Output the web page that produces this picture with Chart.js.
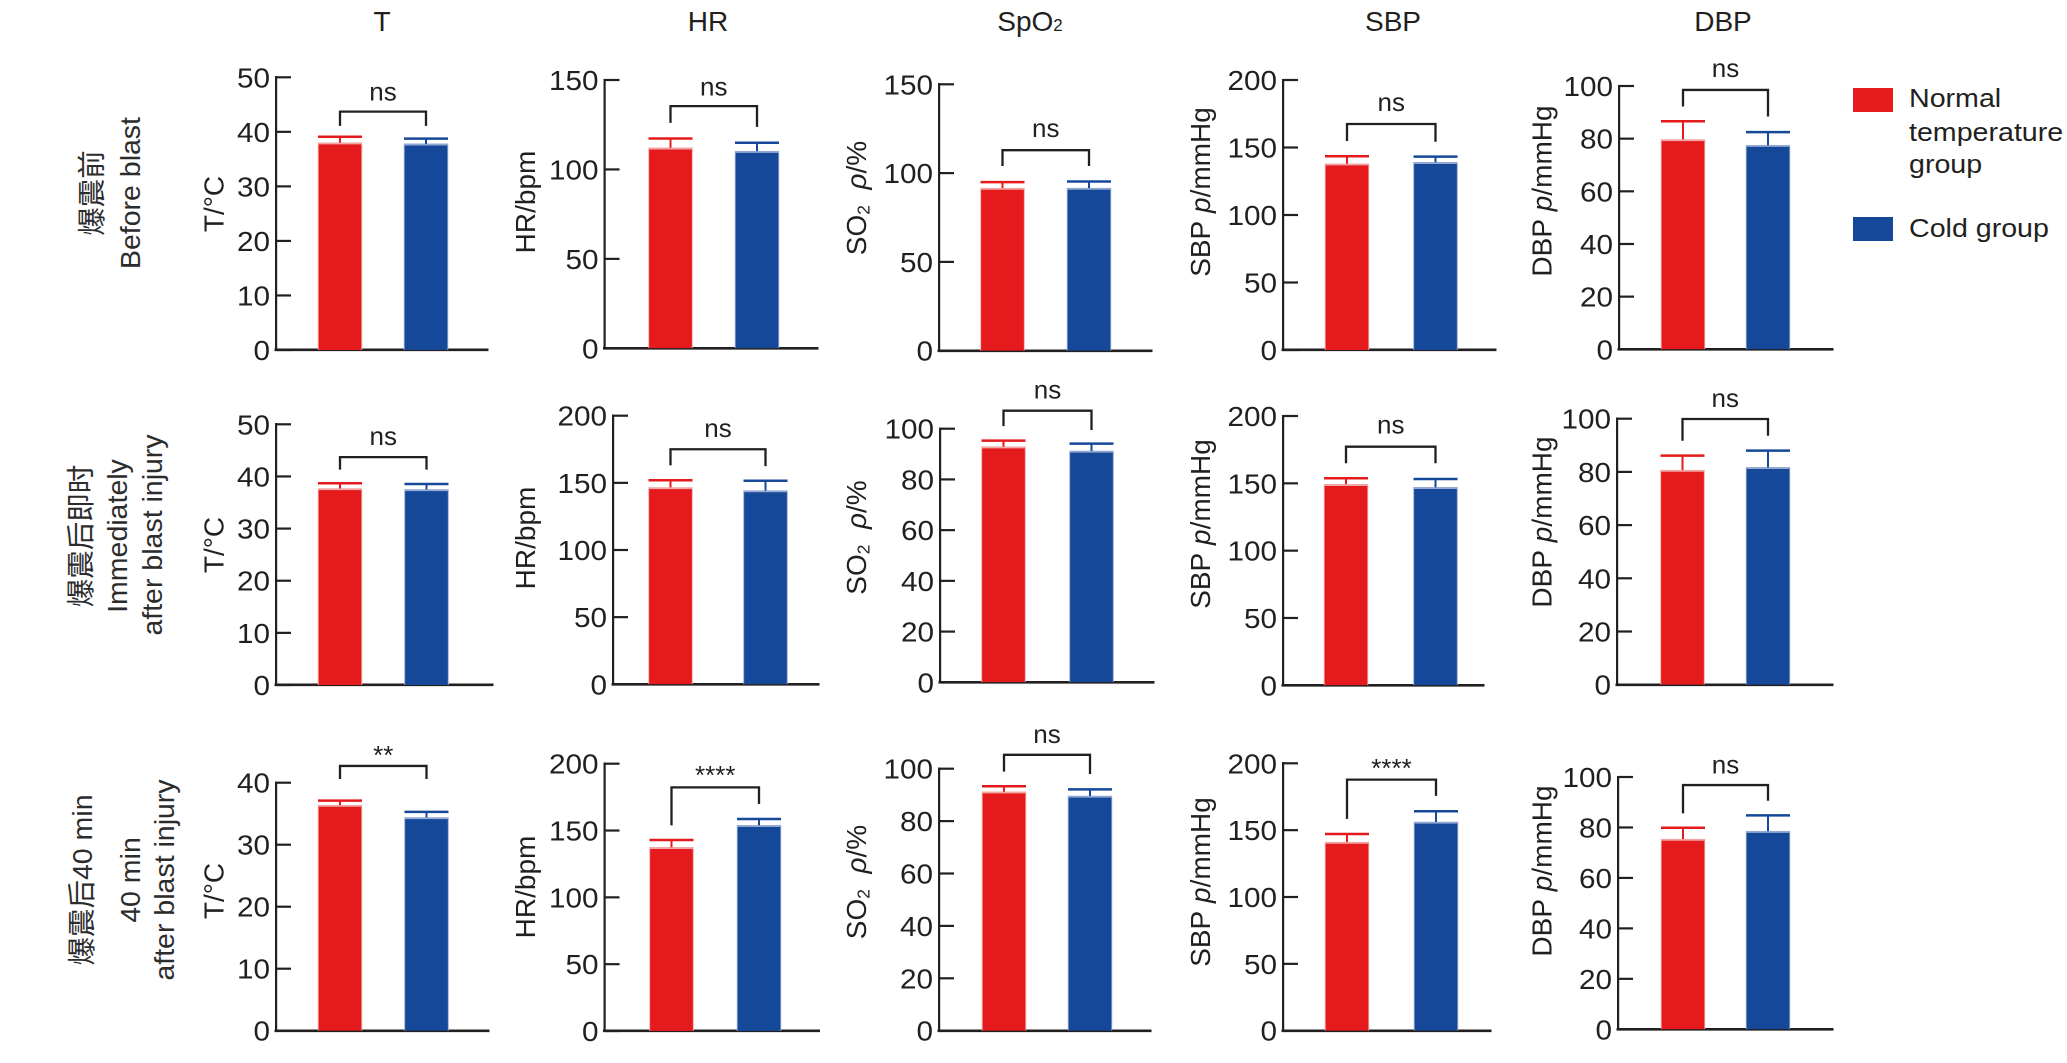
<!DOCTYPE html>
<html>
<head>
<meta charset="utf-8">
<script src="https://cdn.jsdelivr.net/npm/chart.js@4.4.1/dist/chart.umd.min.js"></script>
<style>
html, body { margin: 0; padding: 0; background: #fff; }
#page { position: relative; width: 2067px; height: 1063px; overflow: hidden; background: #fff;
        font-family: "Liberation Sans", Arial, sans-serif; color: #231f20; }
#page canvas { position: absolute; }
.colTitle { position: absolute; font-size: 28px; line-height: 1; white-space: nowrap;
            transform: translateX(-50%); }
.colTitle small { font-size: 60%; }
.rowLab { position: absolute; font-size: 28.5px; line-height: 1; white-space: nowrap; color: #2c2c2c;
          font-family: "Liberation Sans", "Noto Sans CJK SC", sans-serif;
          transform: translate(-50%, -50%) rotate(-90deg); }
.legBox { position: absolute; width: 40px; height: 24px; }
.legText { position: absolute; font-size: 26px; line-height: 1; white-space: nowrap;
           transform-origin: left center; transform: scaleX(1.1); }
</style>
</head>
<body>
<div id="page"></div>
<script>
// ---- data ----
const groups = ['Normal temperature group', 'Cold group'];
const measures = ['T', 'HR', 'SpO2', 'SBP', 'DBP'];
const timepoints = ['爆震前 Before blast', '爆震后即时 Immediately after blast injury', '爆震后40 min 40 min after blast injury'];

// [normal, cold] per time point
const tMean    = [[38.0, 37.8], [37.7, 37.5], [36.4, 34.4]];
const tSD      = [[1.1, 0.95], [1.0, 1.05], [0.7, 0.9]];
const hrMean   = [[112.1, 110.2], [146.6, 144.2], [137.4, 153.9]];
const hrSD     = [[5.2, 4.7], [5.3, 7.4], [5.5, 4.7]];
const spo2Mean = [[91.6, 91.6], [92.9, 91.2], [91.2, 89.6]];
const spo2SD   = [[3.3, 3.7], [2.4, 2.9], [2.1, 2.5]];
const sbpMean  = [[138.0, 139.0], [149.3, 147.0], [141.1, 156.1]];
const sbpSD    = [[5.5, 4.2], [4.5, 6.2], [6.0, 8.0]];
const dbpMean  = [[79.7, 77.5], [80.7, 81.7], [75.4, 78.5]];
const dbpSD    = [[6.9, 5.0], [5.4, 6.3], [4.5, 6.3]];

const significance = [
  ['ns', 'ns', 'ns', 'ns', 'ns'],
  ['ns', 'ns', 'ns', 'ns', 'ns'],
  ['**', '****', 'ns', '****', 'ns']
];
const yMax  = [[50, 150, 150, 200, 100], [50, 200, 100, 200, 100], [40, 200, 100, 200, 100]];
const yStep = [[10, 50, 50, 50, 20], [10, 50, 20, 50, 20], [10, 50, 20, 50, 20]];

// ---- layout (pixels / data units for annotations) ----
const RED = '#e41a1c', BLUE = '#16489a';
const RED_EDGE = '#f2a7a7', BLUE_EDGE = '#93a9d4';
const INK = '#231f20';
const FONT = '"Liberation Sans", Arial, sans-serif';
const TICK_SIZE = 28, SX_TICK = 1.06;

// axisX, endX, red centre, blue centre, y of top tick, y of zero
const geom = [
  [[276, 488, 340, 426, 77.3, 350], [604.5, 818, 670.5, 757, 80, 348.3], [939, 1152, 1002.5, 1089, 84.3, 350.7],
   [1283, 1496, 1347, 1435.5, 80, 350], [1619, 1833, 1683, 1768, 86, 349.3]],
  [[276, 493, 340, 426.5, 424.3, 685], [613, 819, 670.5, 765.5, 415.7, 684.3], [940, 1154, 1003.5, 1091.5, 428.7, 682.3],
   [1283, 1484, 1346, 1435.5, 416, 685.3], [1617, 1833, 1682.5, 1768, 418.7, 684.7]],
  [[276, 489, 340, 426.5, 782.7, 1030.7], [604.5, 819.5, 671.5, 759, 763.7, 1031], [939, 1151, 1004, 1090, 768.7, 1030.7],
   [1283, 1491, 1347, 1436, 763.3, 1030.7], [1618, 1833, 1683, 1768, 777, 1029.3]]
];
// bracket top, left leg end, right leg end, label centre (data units)
const brackets = [
  [[43.7, 41.1, 41.1, 47], [135.4, 126, 123.8, 145], [112.9, 104, 104, 124], [167.4, 154.8, 154.3, 182], [98.5, 92.2, 88.4, 106]],
  [[43.7, 41.3, 41.3, 47.3], [175, 163, 162.5, 189], [107.1, 101, 99.5, 114.6], [177.2, 164.9, 164.9, 192], [99.9, 91.7, 93.6, 107]],
  [[42.7, 40.6, 40.6, 45.4], [182.3, 153.9, 169.8, 195.8], [105.3, 98.9, 98, 112.4], [187.8, 158.4, 175.6, 200.9], [96.8, 85.6, 90.6, 104]]
];
const titleX = [213.5, 525, 856, 1200, 1541.5];
const titleY = [[204, 202, 198, 192, 191], [545, 538, 537.5, 524, 522], [891, 887, 882, 882, 871]];
const yTitles = [
  [{ t: 'T/°C' }],
  [{ t: 'HR/bpm' }],
  [{ t: 'SO' }, { t: '2', sub: true }, { t: '  ' }, { t: 'ρ', it: true }, { t: '/%' }],
  [{ t: 'SBP ' }, { t: 'p', it: true }, { t: '/mmHg' }],
  [{ t: 'DBP ' }, { t: 'p', it: true }, { t: '/mmHg' }]
];

const meanTable = [tMean, hrMean, spo2Mean, sbpMean, dbpMean];
const sdTable = [tSD, hrSD, spo2SD, sbpSD, dbpSD];

const page = document.getElementById('page');

// ---- static labels ----
const colTitles = ['T', 'HR', 'SpO<small>2</small>', 'SBP', 'DBP'];
const colX = [382, 708, 1030, 1393, 1723];
colTitles.forEach((txt, i) => {
  const d = document.createElement('div');
  d.className = 'colTitle';
  d.innerHTML = txt;
  d.style.left = colX[i] + 'px';
  d.style.top = (31.5 - 0.8465 * 28) + 'px';
  page.appendChild(d);
});

const rowLabels = [
  ['爆震前', 91.5, 193], ['Before blast', 129.5, 193],
  ['爆震后即时', 81, 536], ['Immediately', 117, 536], ['after blast injury', 152, 535],
  ['爆震后40 min', 82, 880], ['40 min', 130, 880], ['after blast injury', 164, 880]
];
rowLabels.forEach(([txt, x, y]) => {
  const d = document.createElement('div');
  d.className = 'rowLab';
  d.textContent = txt;
  d.style.left = x + 'px';
  d.style.top = y + 'px';
  page.appendChild(d);
});

[[RED, 88], [BLUE, 217]].forEach(([col, y]) => {
  const b = document.createElement('div');
  b.className = 'legBox';
  b.style.left = '1853px';
  b.style.top = y + 'px';
  b.style.background = col;
  page.appendChild(b);
});
[['Normal', 107.5], ['temperature', 141], ['group', 173], ['Cold group', 237.5]].forEach(([txt, base]) => {
  const d = document.createElement('div');
  d.className = 'legText';
  d.textContent = txt;
  d.style.left = '1909px';
  d.style.top = (base - 0.8465 * 26) + 'px';
  page.appendChild(d);
});

// ---- chart decorations: inward ticks, tick labels, error bars, brackets, y titles ----
const deco = {
  id: 'deco',
  afterDraw(chart, args, o) {
    const ctx = chart.ctx;
    const y = chart.scales.y;
    const area = chart.chartArea;
    const bars = chart.getDatasetMeta(0).data;
    ctx.save();

    // ticks pointing inward + labels
    ctx.strokeStyle = INK;
    ctx.fillStyle = INK;
    ctx.lineWidth = 2.2;
    ctx.font = TICK_SIZE + 'px ' + FONT;
    ctx.textAlign = 'right';
    ctx.textBaseline = 'alphabetic';
    y.ticks.forEach(t => {
      const py = y.getPixelForValue(t.value);
      ctx.beginPath();
      ctx.moveTo(area.left, py);
      ctx.lineTo(area.left + 15, py);
      ctx.stroke();
      ctx.save();
      ctx.translate(area.left - 6, py + 0.358 * TICK_SIZE);
      ctx.scale(SX_TICK, 1);
      ctx.fillText(String(t.value), 0, 0);
      ctx.restore();
    });

    // error bars (upper only)
    bars.forEach((bar, i) => {
      const top = y.getPixelForValue(o.means[i] + o.sds[i]);
      ctx.strokeStyle = i === 0 ? RED : BLUE;
      ctx.lineWidth = 2;
      ctx.beginPath();
      ctx.moveTo(bar.x, bar.y);
      ctx.lineTo(bar.x, top);
      ctx.stroke();
      ctx.lineWidth = 2.5;
      ctx.beginPath();
      ctx.moveTo(bar.x - 22, top);
      ctx.lineTo(bar.x + 22, top);
      ctx.stroke();
    });

    // significance bracket
    const [bTop, bL, bR, bLab] = o.bracket;
    const xL = bars[0].x, xR = bars[1].x;
    ctx.strokeStyle = INK;
    ctx.lineWidth = 2.3;
    ctx.lineJoin = 'miter';
    ctx.beginPath();
    ctx.moveTo(xL, y.getPixelForValue(bL));
    ctx.lineTo(xL, y.getPixelForValue(bTop));
    ctx.lineTo(xR, y.getPixelForValue(bTop));
    ctx.lineTo(xR, y.getPixelForValue(bR));
    ctx.stroke();
    ctx.font = '26px ' + FONT;
    ctx.textAlign = 'center';
    const k = o.sig === 'ns' ? 0.26 : 0.57;
    ctx.fillText(o.sig, (xL + xR) / 2, y.getPixelForValue(bLab) + k * 26);

    // rotated y title
    const size = 28;
    const segFont = s => (s.it ? 'italic ' : '') + (s.sub ? size * 0.62 : size) + 'px ' + FONT;
    let total = 0;
    o.title.forEach(s => { ctx.font = segFont(s); total += ctx.measureText(s.t).width; });
    ctx.translate(o.tx, o.ty);
    ctx.rotate(-Math.PI / 2);
    ctx.textAlign = 'left';
    let pos = -total / 2;
    o.title.forEach(s => {
      ctx.font = segFont(s);
      ctx.fillText(s.t, pos, 0.358 * size + (s.sub ? 0.12 * size : 0));
      pos += ctx.measureText(s.t).width;
    });
    ctx.restore();
  }
};

const PADL = 140, PADT = 90, PADR = 10, PADB = 20;

function buildPanel(r, c) {
  const [L, R, cR, cB, yT, y0] = geom[r][c];
  const left = Math.floor(L) - PADL;
  const top = Math.floor(yT) - PADT;
  const width = Math.ceil(R) + PADR - left;
  const height = Math.ceil(y0) + PADB - top;
  const span = cB - cR;
  const xMin = -(cR - L) / span;
  const xMax = xMin + (R - L) / span;
  const means = meanTable[c][r];
  const sds = sdTable[c][r];

  const canvas = document.createElement('canvas');
  canvas.width = width;
  canvas.height = height;
  canvas.style.left = left + 'px';
  canvas.style.top = top + 'px';
  page.appendChild(canvas);

  return new Chart(canvas, {
    type: 'bar',
    data: {
      labels: groups,
      datasets: [{
        label: measures[c],
        data: means.map((v, i) => ({ x: i, y: v })),
        backgroundColor: [RED, BLUE],
        borderColor: [RED_EDGE, BLUE_EDGE],
        borderWidth: { top: 2, left: 1, right: 1, bottom: 0 },
        barThickness: 44
      }]
    },
    options: {
      responsive: false,
      animation: false,
      devicePixelRatio: 2,
      layout: { padding: { top: yT - top, right: width - (R - left), left: 0, bottom: 0 } },
      plugins: {
        legend: { display: false },
        tooltip: { enabled: false },
        deco: {
          means: means,
          sds: sds,
          bracket: brackets[r][c],
          sig: significance[r][c],
          title: yTitles[c],
          tx: titleX[c] - left,
          ty: titleY[r][c] - top
        }
      },
      scales: {
        x: {
          type: 'linear', min: xMin, max: xMax, offset: false,
          ticks: { display: false },
          grid: { display: false },
          border: { color: INK, width: 2.6 },
          afterFit: s => { s.height = height - (y0 - top); }
        },
        y: {
          min: 0, max: yMax[r][c],
          ticks: { display: false, stepSize: yStep[r][c] },
          grid: { display: false },
          border: { color: INK, width: 2.2 },
          afterFit: s => { s.width = L - left; }
        }
      }
    },
    plugins: [deco]
  });
}

window.addEventListener('load', () => {
  for (let r = 0; r < 3; r++) {
    for (let c = 0; c < 5; c++) buildPanel(r, c);
  }
});
</script>
</body>
</html>
